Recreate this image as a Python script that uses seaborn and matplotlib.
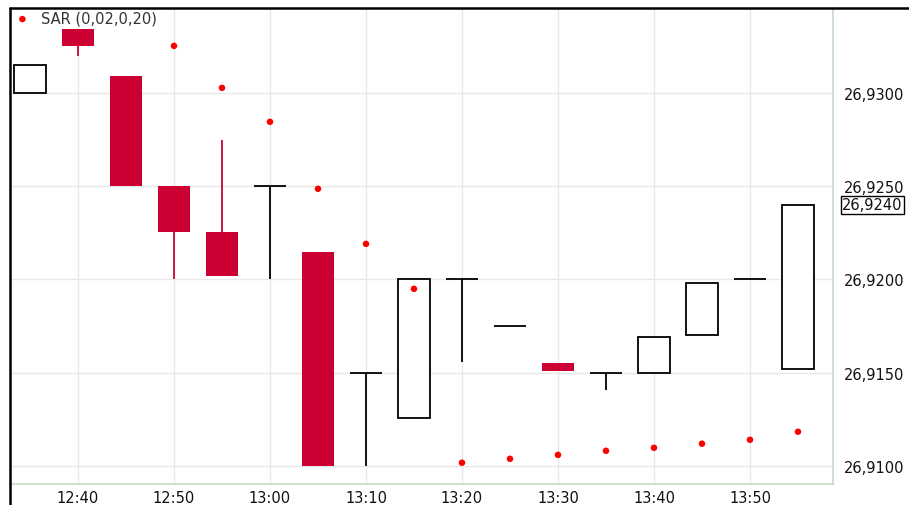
import pandas as pd
import matplotlib
matplotlib.use("Agg")
import matplotlib.pyplot as plt
import matplotlib.dates as mdates
from matplotlib.lines import Line2D
from matplotlib.ticker import FuncFormatter
import seaborn as sns

# 5-minute candles
times = ["12:35", "12:40", "12:45", "12:50", "12:55", "13:00", "13:05", "13:10", "13:15",
         "13:20", "13:25", "13:30", "13:35", "13:40", "13:45", "13:50", "13:55"]
open_ = [26.9300, 26.9334, 26.9309, 26.9250, 26.92255, 26.9250, 26.9215, 26.9150, 26.9126,
         26.9200, 26.9175, 26.9155, 26.9150, 26.9150, 26.9170, 26.9200, 26.9152]
close = [26.9315, 26.9325, 26.9250, 26.92255, 26.9202, 26.9250, 26.9100, 26.9150, 26.9200,
         26.9200, 26.9175, 26.9151, 26.9150, 26.9169, 26.9198, 26.9200, 26.9240]
high = [26.9315, 26.9334, 26.9309, 26.9250, 26.9275, 26.9250, 26.9215, 26.9150, 26.9200,
        26.9200, 26.9175, 26.9155, 26.9150, 26.9169, 26.9198, 26.9200, 26.9240]
low = [26.9300, 26.9320, 26.9250, 26.9200, 26.9202, 26.9200, 26.9100, 26.9100, 26.9126,
       26.9156, 26.9175, 26.9151, 26.9141, 26.9150, 26.9170, 26.9200, 26.9152]

# parabolic SAR points
sar_times = ["12:50", "12:55", "13:00", "13:05", "13:10", "13:15", "13:20",
             "13:25", "13:30", "13:35", "13:40", "13:45", "13:50", "13:55"]
sar_values = [26.93252, 26.93027, 26.92845, 26.92486, 26.92191, 26.9195, 26.91018,
              26.91039, 26.9106, 26.91082, 26.91098, 26.9112, 26.91141, 26.91184]

x_ticks = ["12:40", "12:50", "13:00", "13:10", "13:20", "13:30", "13:40", "13:50"]
y_ticks = [26.9100, 26.9150, 26.9200, 26.9250, 26.9300]
last_price = 26.9240
sar_label = "SAR (0,02,0,20)"

DAY = "2024-01-01 "
RED = "#cc0033"


def to_dt(lst):
    return pd.to_datetime([DAY + t for t in lst])


def main():
    sns.set_style("white")
    plt.rcParams["font.family"] = ["DejaVu Sans"]

    df = pd.DataFrame({"time": to_dt(times), "open": open_, "close": close,
                       "high": high, "low": low})
    sar = pd.DataFrame({"time": to_dt(sar_times), "SAR": sar_values})

    fig = plt.figure(figsize=(9.09, 5.06), dpi=100)
    ax = fig.add_axes([0.011, 0.0415, 0.9054, 0.9407])

    width = 3.4 / 1440  # candle body width in days

    for _, r in df.iterrows():
        up = r["close"] >= r["open"]
        doji = abs(r["close"] - r["open"]) < 1e-6
        col = "black" if up else RED
        if r["high"] > max(r["open"], r["close"]) or r["low"] < min(r["open"], r["close"]):
            ax.vlines(r["time"], r["low"], r["high"], color=col, lw=1.3, zorder=2)
        if doji:
            ax.hlines(r["open"], r["time"] - pd.Timedelta(minutes=1.7),
                      r["time"] + pd.Timedelta(minutes=1.7), color="black", lw=1.3, zorder=3)
        elif up:
            ax.bar(r["time"], r["close"] - r["open"], bottom=r["open"], width=width,
                   facecolor="white", edgecolor="black", lw=1.3, zorder=3)
        else:
            ax.bar(r["time"], r["open"] - r["close"], bottom=r["close"], width=width,
                   color=RED, lw=0, zorder=3)

    sns.scatterplot(data=sar, x="time", y="SAR", ax=ax, color="#ff0000", s=22,
                    edgecolor="none", zorder=4, label=sar_label)

    ax.set_xlim(pd.Timestamp(DAY + "12:32:55"), pd.Timestamp(DAY + "13:58:39"))
    ax.set_ylim(26.90904, 26.93455)

    ax.set_xticks(to_dt(x_ticks))
    ax.xaxis.set_major_formatter(mdates.DateFormatter("%H:%M"))
    ax.set_yticks(y_ticks)
    ax.yaxis.set_major_formatter(FuncFormatter(lambda v, p: f"{v:.4f}".replace(".", ",")))
    ax.yaxis.tick_right()
    ax.tick_params(axis="both", length=0, labelsize=10.5, colors="#111111")
    ax.tick_params(axis="y", pad=8)
    ax.tick_params(axis="x", pad=4)
    ax.set_xlabel("")
    ax.set_ylabel("")

    ax.grid(True, color="#e8e8e8", lw=1, zorder=0)
    ax.set_axisbelow(True)
    for s in ["left", "top"]:
        ax.spines[s].set_visible(False)
    for s in ["bottom", "right"]:
        ax.spines[s].set_color("#c8dcc8")
        ax.spines[s].set_linewidth(1.3)

    leg = ax.legend(loc="upper left", frameon=False, fontsize=10.5, handletextpad=0.6,
                    borderaxespad=0.0, borderpad=0.2, markerscale=1.0, handlelength=1.3)
    for t in leg.get_texts():
        t.set_color("#333333")

    ax.text(1.011, last_price, f"{last_price:.4f}".replace(".", ","),
            transform=ax.get_yaxis_transform(), va="center", ha="left", fontsize=10.5,
            color="#111111",
            bbox=dict(boxstyle="square,pad=0.1", facecolor="white", edgecolor="black", lw=1))

    # outer frame lines (left and top)
    fig.add_artist(Line2D([0.0105, 0.0105], [0, 0.9822], transform=fig.transFigure,
                          color="black", lw=1.8))
    fig.add_artist(Line2D([0.0105, 1], [0.9822, 0.9822], transform=fig.transFigure,
                          color="black", lw=1.8))

    fig.savefig("out.png", dpi=100)


if __name__ == "__main__":
    main()
